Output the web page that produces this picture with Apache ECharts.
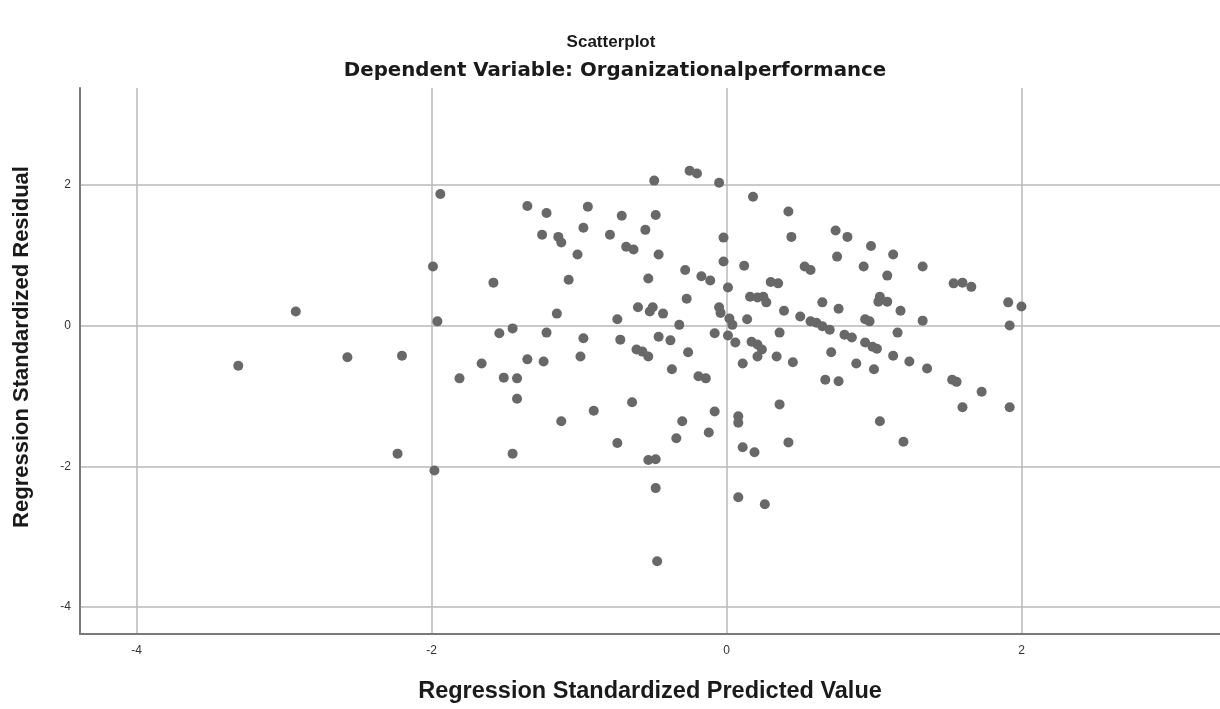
<!DOCTYPE html>
<html>
<head>
<meta charset="utf-8">
<script src="https://cdn.jsdelivr.net/npm/echarts@6/dist/echarts.min.js"></script>
<style>
  html, body { margin: 0; padding: 0; background: #ffffff; }
  #chart { width: 1220px; height: 709px; }
</style>
</head>
<body>
<div id="chart"></div>
<script>
// Regression standardized predicted value (x) for each case
var predicted = [
  -3.31, -2.92, -2.57, -2.20, -2.23, -1.99, -1.94, -1.96, -1.98, -1.58,
  -1.54, -1.45, -1.66, -1.81, -1.51, -1.42, -1.42, -1.45, -1.35, -1.22,
  -0.94, -0.71, -1.25, -1.14, -1.12, -0.97, -0.79, -0.68, -0.63, -1.01,
  -1.07, -1.15, -0.74, -1.22, -0.97, -0.72, -1.35, -1.24, -0.99, -1.12,
  -0.90, -0.64, -0.74, -0.49, -0.25, -0.20, -0.05, 0.18, -0.48, 0.42,
  -0.55, 0.74, 0.82, -0.02, 0.44, -0.46, 0.75, -0.02, 0.12, -0.28,
  0.53, 0.57, -0.53, -0.17, -0.11, 0.30, 0.35, 0.01, -0.27, 0.16,
  0.21, 0.25, 0.27, 0.65, 0.76, -0.60, -0.52, -0.50, -0.43, -0.05,
  -0.04, 0.02, 0.04, 0.14, 0.39, 0.50, 0.57, 0.61, 0.65, 0.70,
  0.80, -0.32, -0.46, -0.38, -0.08, 0.01, 0.06, 0.36, 0.17, 0.21,
  0.24, 0.21, -0.61, -0.57, -0.53, -0.26, 0.34, 0.45, 0.71, 0.11,
  -0.37, -0.19, -0.14, 0.67, 0.76, -0.08, -0.30, 0.08, 0.08, 0.36,
  -0.34, -0.12, 0.11, 0.19, 0.42, -0.53, -0.48, -0.48, 0.08, 0.26,
  -0.47, 0.98, 1.13, 0.93, 1.09, 1.33, 1.54, 1.60, 1.66, 1.04,
  1.03, 1.09, 1.18, 0.94, 0.97, 1.33, 1.91, 2.00, 1.92, 1.16,
  0.85, 0.94, 0.99, 1.02, 1.13, 1.24, 0.88, 1.00, 1.36, 1.53,
  1.56, 1.73, 1.60, 1.92, 1.04, 1.20
];
// Regression standardized residual (y) for each case
var residual = [
  -0.57, 0.20, -0.45, -0.43, -1.82, 0.84, 1.87, 0.06, -2.06, 0.61,
  -0.11, -0.04, -0.54, -0.75, -0.74, -0.75, -1.04, -1.82, 1.70, 1.60,
  1.69, 1.56, 1.29, 1.26, 1.18, 1.39, 1.29, 1.12, 1.08, 1.01,
  0.65, 0.17, 0.09, -0.10, -0.18, -0.20, -0.48, -0.51, -0.44, -1.36,
  -1.21, -1.09, -1.67, 2.06, 2.20, 2.16, 2.03, 1.83, 1.57, 1.62,
  1.36, 1.35, 1.26, 1.25, 1.26, 1.01, 0.98, 0.91, 0.85, 0.79,
  0.84, 0.79, 0.67, 0.70, 0.64, 0.62, 0.60, 0.54, 0.38, 0.41,
  0.40, 0.41, 0.33, 0.33, 0.24, 0.26, 0.20, 0.26, 0.17, 0.26,
  0.18, 0.10, 0.01, 0.09, 0.21, 0.13, 0.06, 0.04, -0.01, -0.06,
  -0.13, 0.01, -0.16, -0.21, -0.11, -0.14, -0.24, -0.10, -0.23, -0.27,
  -0.34, -0.44, -0.34, -0.37, -0.44, -0.38, -0.44, -0.52, -0.38, -0.54,
  -0.62, -0.72, -0.75, -0.77, -0.79, -1.22, -1.36, -1.29, -1.38, -1.12,
  -1.60, -1.52, -1.73, -1.80, -1.66, -1.91, -1.90, -2.31, -2.44, -2.54,
  -3.35, 1.13, 1.01, 0.84, 0.71, 0.84, 0.60, 0.61, 0.55, 0.41,
  0.34, 0.34, 0.21, 0.09, 0.06, 0.07, 0.33, 0.27, 0.00, -0.10,
  -0.17, -0.24, -0.30, -0.33, -0.43, -0.51, -0.54, -0.62, -0.61, -0.77,
  -0.80, -0.94, -1.16, -1.16, -1.36, -1.65
];
var xTicks = [-4, -2, 0, 2];
var yTicks = [2, 0, -2, -4];

var titleText = 'Scatterplot';
var subtitleText = 'Dependent Variable: Organizationalperformance';
var xName = 'Regression Standardized Predicted Value';
var yName = 'Regression Standardized Residual';

var points = predicted.map(function (v, i) { return [v, residual[i]]; });
var gridLines = xTicks.map(function (v) { return { xAxis: v }; })
  .concat(yTicks.map(function (v) { return { yAxis: v }; }));

var chart = echarts.init(document.getElementById('chart'), null, { renderer: 'canvas' });
chart.setOption({
  backgroundColor: '#ffffff',
  animation: false,
  textStyle: { fontFamily: 'Liberation Sans, Arial, sans-serif' },
  graphic: [
    { type: 'text', x: 611, y: 42, silent: true,
      style: { text: titleText, fill: '#1a1a1a', font: 'bold 17px "Liberation Sans", Arial, sans-serif',
               textAlign: 'center', textVerticalAlign: 'middle' } },
    { type: 'text', x: 615, y: 71, silent: true,
      style: { text: subtitleText, fill: '#1a1a1a', font: 'bold 19.8px "DejaVu Sans", sans-serif',
               textAlign: 'center', textVerticalAlign: 'middle' } },
    { type: 'text', x: 22, y: 347, rotation: Math.PI / 2, silent: true,
      style: { text: yName, fill: '#1a1a1a', font: 'bold 22px "Liberation Sans", Arial, sans-serif',
               textAlign: 'center', textVerticalAlign: 'middle' } }
  ],
  grid: { left: 80, right: 0, top: 88, bottom: 74, containLabel: false },
  xAxis: {
    type: 'value',
    min: -4.383, max: 3.346,
    name: xName,
    nameLocation: 'middle',
    nameGap: 46,
    nameTextStyle: { fontSize: 23.5, fontWeight: 'bold', color: '#1a1a1a', fontFamily: 'Liberation Sans, Arial, sans-serif' },
    axisLine: { show: true, onZero: false, lineStyle: { color: '#7a7a7a', width: 2 } },
    axisTick: { show: false },
    splitLine: { show: false },
    axisLabel: { customValues: xTicks, fontSize: 12, color: '#333', margin: 11,
                 formatter: function (v) { return String(v); } }
  },
  yAxis: {
    type: 'value',
    min: -4.383, max: 3.376,
    axisLine: { show: true, onZero: false, lineStyle: { color: '#7a7a7a', width: 2 } },
    axisTick: { show: false },
    splitLine: { show: false },
    axisLabel: { customValues: yTicks, fontSize: 12, color: '#333', margin: 9,
                 formatter: function (v) { return String(v); } }
  },
  series: [{
    type: 'scatter',
    data: points,
    symbol: 'circle',
    symbolSize: 10,
    itemStyle: { color: '#686868', opacity: 1 },
    markLine: {
      silent: true,
      symbol: ['none', 'none'],
      label: { show: false },
      lineStyle: { color: '#b8b8b8', width: 1.5, type: 'solid' },
      emphasis: { disabled: true },
      data: gridLines,
      z: 0
    },
    z: 3
  }]
});
</script>
</body>
</html>
